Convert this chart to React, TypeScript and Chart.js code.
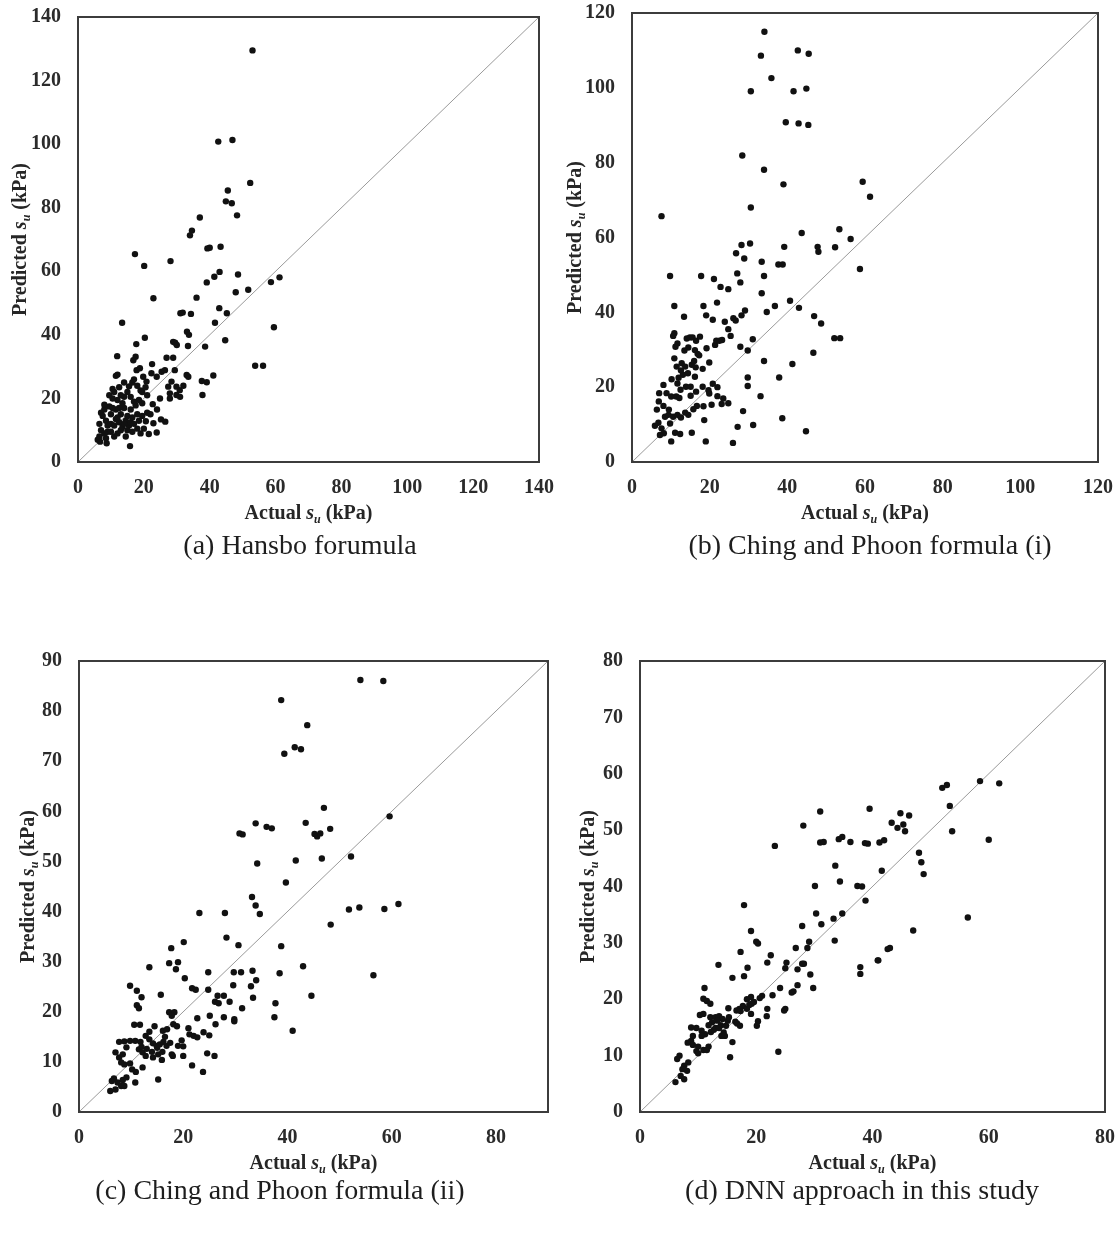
import React, { useEffect, useRef } from 'react';
import { Chart, registerables } from 'chart.js';

Chart.register(...registerables);

type Pt = [number, number];

// (a) Hansbo formula: [actual su, predicted su]
const hansboPoints: Pt[] = [
  [53,129.5],[42.6,100.8],[46.9,101.3],[52.3,87.8],[45.5,85.4],[44.9,82],[46.7,81.4],[48.3,77.6],[37,76.9],[34.6,72.8],[34,71.3],[39.3,67.2],[40,67.4],[43.3,67.7],[17.3,65.4],[20.1,61.7],[28.1,63.2],[39.1,56.5],[41.4,58.3],[43,59.8],[48.6,59],[47.9,53.4],[51.7,54.2],[58.6,56.6],[61.2,58.1],[22.9,51.5],[36,51.7],[31.1,46.8],[31.8,47],[34.3,46.6],[45.2,46.8],[42.9,48.4],[41.6,43.8],[13.4,43.8],[59.5,42.4],[44.7,38.3],[20.3,39.1],[17.7,37.1],[28.9,37.8],[30,36.8],[29.5,37.5],[33.1,41],[33.7,40],[38.6,36.3],[33.4,36.5],[11.9,33.3],[17.5,33.1],[16.8,32],[22.5,30.8],[26.9,32.8],[28.9,32.8],[53.8,30.3],[56.2,30.3],[11.5,27.1],[12,27.5],
  [17.8,28.9],[18.8,29.5],[19.8,26.8],[20.8,25.3],[22.3,27.9],[23.9,26.8],[25.4,28.4],[26.4,28.9],[27.4,23.7],[28.4,25.3],[29.4,28.9],[27.9,21.6],[29.9,23.7],[30.9,22.6],[33,27.4],[33.5,26.8],[29.9,21.1],[27.9,20],[24.9,20],[22.7,18.2],[37.6,25.5],[39.1,25.1],[41.1,27.2],[37.8,21.1],[31,20.5],[32,24],
  [22.9,12.2],[23.9,9.3],[21.5,8.8],[20.6,12.8],[25.2,13.4],[26.5,12.7],[19.5,18.5],[15.8,5],[14.5,8],[16.5,9.5],[18,15],[16,16.5],[17.5,17.8],[18.5,19.5],[19.5,22],[20.5,23.5],[15,22],[15.5,23.8],[14,20.5],[13,21],[12,19.5],[11,22],[10.5,20],[9.5,17.5],[10,15],[8,16.5],[7.5,14.5],[8.5,13],[9,11.5],[7,10],[6.5,8],[6,7],[6.7,6.4],[8.7,5.9],[8.5,7.5],[9,9.5],[10,12],[11,11.5],[11.5,13.5],[12.5,12.5],[13,15],[13.5,11],[14.5,13],[15,14.5],[15.5,11.5],[16,12.5],[12,9],[13,10],[11,8],[10,9.5],[14,17],[13.5,18.5],[12.5,17],[11.5,16.5],[10.5,17],[16.5,14],[17,12],[18,10.5],[9.5,21],[10.5,23],[12.5,23.5],[14,25],[16.5,25],[17,26],[18,24],[19,22.5],[21,21],[16,20.5],[17,19],[8,18],[7,15.5],[6.5,12],[8,9],[12,14],[14,12],[15,10],[19,9],[20,10.5],[18.5,13],[19.5,14.5],[21,15.5],[22,15],[24,16.5]
];

// (b) Ching and Phoon formula (i)
const chingIPoints: Pt[] = [
  [34.1,115],[33.2,108.6],[42.7,110],[45.5,109.1],[35.9,102.6],[30.6,99.1],[41.6,99.1],[44.9,99.8],[39.6,90.8],[42.9,90.5],[45.4,90.1],[28.4,81.9],[34,78.1],[39,74.2],[30.6,68],[7.6,65.7],[43.7,61.2],[28.2,58],[30.4,58.4],[39.2,57.5],[47.8,57.5],[52.3,57.4],[53.4,62.2],[59.4,74.9],[61.3,70.9],[56.3,59.6],[58.7,51.6],[53.6,33.1],[52.1,33.1],
  [26.8,55.8],[28.9,54.4],[33.4,53.5],[37.7,52.8],[38.8,52.8],[48,56.2],[9.8,49.7],[17.8,49.7],[21.1,48.9],[22.8,46.8],[24.8,46.2],[27.1,50.4],[27.9,48],[34,49.7],[33.4,45.1],[40.7,43.1],[43,41.2],[36.8,41.7],[34.7,40.1],[46.9,39],[48.7,37],[46.7,29.2],[41.3,26.2],[34,27],[37.9,22.6],[29.8,22.6],[29.8,20.3],[33.1,17.6],[28.6,13.6],[27.2,9.4],[31.2,9.9],[38.7,11.7],[44.8,8.2],[26,5.1],[19,5.5],
  [10.9,41.7],[13.4,38.8],[18.4,41.7],[19.1,39.2],[21.9,42.6],[20.8,38],[23.9,37.5],[26.1,38.4],[26.7,37.8],[28.2,39.2],[29.1,40.5],[24.8,35.5],[25.4,33.7],[27.9,30.8],[29.8,29.8],[31.1,32.8],[10.9,34.4],[10.6,33.7],[11.7,31.7],[11.2,30.8],[14.1,33],[14.9,33.3],[15.6,33.3],[16.5,32.4],[14.5,30.6],[16.2,29.9],[17.3,28.5],[16.9,28.9],[19.2,30.4],[21.4,31.3],[21.7,32.4],[22.5,32.4],[23.2,32.6],[13.5,29.8],[10.9,27.7],[11.5,25.5],[12.8,26.4],[13.7,25.5],[13.1,23.3],[14.4,23.7],[15.4,26],[16.4,25.3],[16.2,22.8],[18.2,24.9],[19.9,26.6],[10.2,22.1],[11.7,21],[12.5,19.3],[8.1,20.6],[7,18.4],[8.9,18.4],[10.1,17.5],[11.4,17.5],[12.2,17.1],[13.9,20.1],[15.1,20.1],[16.5,18.8],[18.2,20.1],[19.7,19.2],[20.8,20.9],[19.9,18.3],[22,17.6],[23.5,17],[24.8,15.7],[23.1,15.5],[20.5,15.3],[18.4,14.9],[16.7,15],[15.8,14.1],[15.1,17.7],[6.9,16.2],[6.4,14],[8.1,15],[8.5,12.1],[9.4,12.6],[10.6,12.1],[11.7,12.6],[12.6,11.9],[14.5,12.6],[13.7,13.2],[5.9,9.7],[7.6,9],[7.2,7.2],[8.2,7.7],[10.1,5.5],[11.1,7.8],[12.4,7.5],[15.4,7.8],[18.6,11.2],[9.8,10.3],[12,22.5],[12.6,24.5],[16,27],[17.5,33.5],[22,20],[9.5,14],[6.8,10.5]
];

// (c) Ching and Phoon formula (ii)
const chingIIPoints: Pt[] = [
  [38.8,82.2],[39.4,71.5],[41.4,72.8],[42.6,72.4],[43.8,77.2],[54,86.2],[58.4,86],[30.8,55.6],[31.4,55.4],[33.9,57.6],[36,56.9],[37,56.6],[34.2,49.6],[41.6,50.2],[39.7,45.8],[47,60.7],[45.2,55.5],[45.7,55],[46.3,55.6],[46.6,50.6],[48.2,56.5],[43.5,57.7],[52.2,51],[59.6,59],[48.3,37.4],[51.8,40.4],[53.8,40.8],[58.6,40.5],[61.3,41.5],[56.5,27.3],[43,29.1],[44.6,23.2],[41,16.2],
  [33.2,42.9],[33.9,41.2],[34.7,39.5],[23.1,39.7],[28,39.7],[20.1,33.9],[28.3,34.8],[30.6,33.3],[17.7,32.7],[38.8,33.1],[17.3,29.7],[19,29.9],[13.5,28.9],[18.6,28.5],[38.5,27.7],[20.3,26.7],[24.8,27.9],[29.7,27.9],[31.1,27.9],[33.3,28.2],[34,26.3],[29.6,25.3],[33,25.1],[21.7,24.7],[22.4,24.4],[24.8,24.4],[9.8,25.2],[11.1,24.2],[12,22.9],[15.7,23.4],[26.6,23.2],[27.8,23.2],[28.9,22],[26.1,22],[26.8,21.7],[33.4,22.8],[11.1,21.3],[11.5,20.7],[37.7,21.7],[31.3,20.7],[17.3,19.9],[18.3,19.9],[17.8,19.2],[22.7,18.7],[25.1,19.2],[27.8,18.9],[29.8,18.5],[29.8,18.1],[37.5,18.9],[26.2,17.5],[10.6,17.4],[11.7,17.4],[14.5,17.1],[16.1,16.2],[16.9,16.5],[18.1,17.5],[18.8,17.1],[21,16.7],[21.2,15.5],[22,15.2],[22.7,14.9],[23.9,15.9],[25,15.3],[19.7,14.3],[7.7,14],[8.7,14.1],[9.8,14.2],[10.8,14.2],[11.8,14],[12.8,15.2],[13.5,14.5],[14.2,13.7],[14.9,13.2],[15.5,13.5],[16.2,14],[16.8,13.2],[17.5,13.8],[19,13.2],[20,13.1],[7,11.9],[11.5,12.5],[12.2,11.9],[12.8,11.2],[14.2,10.9],[15.2,11.5],[15.9,10.4],[17.8,11.5],[18,11.2],[20,11.2],[24.6,11.7],[26,11.2],[21.7,9.3],[23.8,8],[8.1,9.9],[8.7,9.5],[9.8,9.7],[10.2,8.5],[10.9,8],[12.2,8.9],[15.2,6.5],[6.7,6.7],[6.3,6.2],[7.4,5.9],[8.4,6.4],[9.1,6.9],[10.8,5.9],[6,4.2],[7,4.5],[8.1,5.2],[8.7,5.2],[7.7,10.9],[8.4,11.5],[9.1,12.9],[13,12.6],[14,12],[15,12.8],[16,12],[12,13],[13.5,16],[16.5,15]
];

// (d) DNN approach in this study
const dnnPoints: Pt[] = [
  [52,57.5],[52.8,58],[53.3,54.3],[53.7,49.8],[58.5,58.7],[61.8,58.3],[60,48.3],[47,32.2],[48,46],[48.4,44.3],[48.8,42.2],[46.3,52.6],[44.8,53],[45.6,49.8],[45.3,51],[44.3,50.4],[43.3,51.3],[42,48.2],[41.2,47.8],[39.5,53.8],[39.2,47.6],[38.7,47.7],[36.2,47.9],[34.8,48.8],[34.2,48.4],[33.6,43.7],[34.4,40.9],[30.1,40.1],[37.4,40.1],[38.2,40],[41.6,42.8],[42.6,28.9],[41,26.9],[37.9,25.7],[37.9,24.5],[31,53.3],[28.1,50.8],[23.2,47.2],[31,47.8],[31.6,47.9],[56.4,34.5],
  [17.9,36.7],[38.8,37.5],[30.3,35.2],[34.8,35.2],[33.3,34.3],[31.2,33.3],[27.9,33],[19.1,32.1],[33.5,30.4],[20,30.2],[20.3,29.9],[29.1,30.2],[28.8,29.1],[26.8,29.1],[17.3,28.4],[43,29.1],[13.5,26.1],[22.5,27.8],[25.2,26.5],[21.9,26.5],[28.2,26.3],[27.9,26.3],[40.9,26.9],[18.5,25.6],[17.9,24.1],[15.9,23.8],[25,25.5],[27.1,25.3],[29.3,24.4],[27.1,22.5],[26.4,21.4],[26.1,21.2],[24.1,22],[29.8,22],[11.1,22],[10.9,20.1],[11.5,19.7],[12.1,19.2],[21,20.6],[20.6,20.2],[22.8,20.7],[19.1,20.4],[18.4,20],[19.2,19.2],[17.7,18.8],[17.1,18.3],[18.4,18.3],[18.8,19],[19.6,19.5],[16.6,18],[17.3,17.9],[15.2,18.4],[21.9,18.3],[21.8,17],[19.1,17.4],[25,18.3],[24.8,18],[10.3,17.2],[10.9,17.4],[12.1,16.8],[13,16.8],[13.6,17],[14.2,16.5],[13.3,16.2],[12.4,15.9],[11.8,15.4],[13,14.9],[13.9,15.4],[14.4,14.1],[14.6,13.5],[14,13.5],[15.1,16.2],[15.3,16.8],[16.4,16],[16.7,15.7],[17.2,15.3],[20.3,16.1],[20.1,15.3],[8.8,15],[9.7,14.9],[10.6,14.4],[11.2,13.8],[10.6,13.5],[9.1,13.5],[8.8,12.6],[8.2,12.3],[9.1,11.9],[10,11.6],[10.9,11],[11.8,11.6],[11.5,11],[9.7,10.8],[10,10.4],[15.9,12.4],[23.8,10.7],[15.5,9.7],[6.8,10],[6.4,9.4],[8.3,8.8],[7.6,8.2],[7.3,7.6],[8.1,7.3],[7,6.4],[7.6,5.8],[6.1,5.3],[12.7,14.6],[13.6,14.9],[12.2,14.2],[14.8,15.3]
];

const ticksA = [0, 20, 40, 60, 80, 100, 120, 140];
const ticksB = [0, 20, 40, 60, 80, 100, 120];
const ticksCX = [0, 20, 40, 60, 80];
const ticksCY = [0, 10, 20, 30, 40, 50, 60, 70, 80, 90];
const ticksDX = [0, 20, 40, 60, 80];
const ticksDY = [0, 10, 20, 30, 40, 50, 60, 70, 80];

const captions = [
  '(a) Hansbo forumula',
  '(b) Ching and Phoon formula (i)',
  '(c) Ching and Phoon formula (ii)',
  '(d) DNN approach in this study',
];

const xTitleWord = 'Actual';
const yTitleWord = 'Predicted';

const SERIF = '"Liberation Serif", "Times New Roman", serif';

type PanelSpec = {
  points: Pt[];
  max: number;
  xTicks: number[];
  yTicks: number[];
  left: number;
  top: number;
  width: number;
  height: number;
  yAxisWidth: number;
  xAxisHeight: number;
  padTop: number;
  padRight: number;
  yTitleOffset: number;
  caption: string;
  capX: number;
  capY: number;
};

const panels: PanelSpec[] = [
  { points: hansboPoints, max: 140, xTicks: ticksA, yTicks: ticksA, left: 0, top: 0, width: 560, height: 530, yAxisWidth: 78, xAxisHeight: 68, padTop: 17, padRight: 21, yTitleOffset: 59, caption: captions[0], capX: 300, capY: 545 },
  { points: chingIPoints, max: 120, xTicks: ticksB, yTicks: ticksB, left: 560, top: 0, width: 557, height: 530, yAxisWidth: 72, xAxisHeight: 68, padTop: 13, padRight: 19, yTitleOffset: 58, caption: captions[1], capX: 870, capY: 545 },
  { points: chingIIPoints, max: 90, xTicks: ticksCX, yTicks: ticksCY, left: 0, top: 640, width: 560, height: 540, yAxisWidth: 79, xAxisHeight: 68, padTop: 21, padRight: 12, yTitleOffset: 52, caption: captions[2], capX: 280, capY: 1190 },
  { points: dnnPoints, max: 80, xTicks: ticksDX, yTicks: ticksDY, left: 560, top: 640, width: 557, height: 540, yAxisWidth: 80, xAxisHeight: 68, padTop: 21, padRight: 12, yTitleOffset: 53, caption: captions[3], capX: 862, capY: 1190 },
];

function drawRichTitle(ctx: CanvasRenderingContext2D, word: string, cx: number, cy: number, size: number, vertical: boolean) {
  const bold = `bold ${size}px ${SERIF}`;
  const boldItalic = `italic bold ${size}px ${SERIF}`;
  const sub = `italic bold ${Math.round(size * 0.62)}px ${SERIF}`;
  const parts = [
    { t: word + ' ', f: bold, dy: 0 },
    { t: 's', f: boldItalic, dy: 0 },
    { t: 'u', f: sub, dy: size * 0.2 },
    { t: ' (kPa)', f: bold, dy: 0 },
  ];
  let total = 0;
  const widths = parts.map((p) => {
    ctx.font = p.f;
    const w = ctx.measureText(p.t).width;
    total += w;
    return w;
  });
  ctx.save();
  ctx.translate(cx, cy);
  if (vertical) ctx.rotate(-Math.PI / 2);
  ctx.fillStyle = '#262626';
  ctx.textBaseline = 'alphabetic';
  ctx.textAlign = 'left';
  let x = -total / 2;
  const base = size * 0.33;
  parts.forEach((p, i) => {
    ctx.font = p.f;
    ctx.fillText(p.t, x, base + p.dy);
    x += widths[i];
  });
  ctx.restore();
}

function Panel({ spec }: { spec: PanelSpec }) {
  const ref = useRef<HTMLCanvasElement>(null);
  useEffect(() => {
    if (!ref.current) return;
    const framePlugin = {
      id: 'frameAndTitles',
      afterDraw(chart: any) {
        const { ctx, chartArea } = chart;
        const { left, top, right, bottom } = chartArea;
        ctx.save();
        ctx.strokeStyle = '#3c3c3c';
        ctx.lineWidth = 2;
        ctx.strokeRect(left, top, right - left, bottom - top);
        ctx.restore();
        drawRichTitle(ctx, xTitleWord, (left + right) / 2, bottom + 50, 20, false);
        drawRichTitle(ctx, yTitleWord, left - spec.yTitleOffset, (top + bottom) / 2, 20, true);
      },
    };
    const tickFont = { family: SERIF, size: 20, weight: 'bold' as const };
    const chart = new Chart(ref.current, {
      type: 'scatter',
      data: {
        datasets: [
          {
            type: 'line',
            data: [{ x: 0, y: 0 }, { x: spec.max, y: spec.max }],
            borderColor: '#9a9a9a',
            borderWidth: 1,
            pointRadius: 0,
            fill: false,
            order: 2,
          } as any,
          {
            type: 'scatter',
            data: spec.points.map(([x, y]) => ({ x, y })),
            pointRadius: 3.2,
            pointBackgroundColor: '#111111',
            pointBorderWidth: 0,
            borderWidth: 0,
            order: 1,
          } as any,
        ],
      },
      options: {
        animation: false,
        responsive: false,
        maintainAspectRatio: false,
        devicePixelRatio: 1,
        layout: { padding: { top: spec.padTop, right: spec.padRight, left: 0, bottom: 0 } },
        plugins: { legend: { display: false }, tooltip: { enabled: false } },
        scales: {
          x: {
            type: 'linear',
            min: 0,
            max: spec.max,
            afterBuildTicks: (s: any) => {
              s.ticks = spec.xTicks.map((v) => ({ value: v }));
            },
            afterFit: (s: any) => {
              s.height = spec.xAxisHeight;
              s.paddingLeft = 0;
              s.paddingRight = 0;
            },
            ticks: { font: tickFont, color: '#2b2b2b', padding: 14, maxRotation: 0, autoSkip: false },
            grid: { display: false, drawTicks: false },
            border: { display: false },
          },
          y: {
            type: 'linear',
            min: 0,
            max: spec.max,
            afterBuildTicks: (s: any) => {
              s.ticks = spec.yTicks.map((v) => ({ value: v }));
            },
            afterFit: (s: any) => {
              s.width = spec.yAxisWidth;
              s.paddingTop = 0;
              s.paddingBottom = 0;
            },
            ticks: { font: tickFont, color: '#2b2b2b', padding: 17, autoSkip: false },
            grid: { display: false, drawTicks: false },
            border: { display: false },
          },
        },
      } as any,
      plugins: [framePlugin],
    });
    return () => chart.destroy();
  }, [spec]);
  return (
    <canvas
      ref={ref}
      width={spec.width}
      height={spec.height}
      style={{ position: 'absolute', left: spec.left, top: spec.top, width: spec.width, height: spec.height }}
    />
  );
}

export default function App() {
  return (
    <div style={{ position: 'absolute', left: 0, top: 0, width: 1117, height: 1234, background: '#ffffff', overflow: 'hidden' }}>
      {panels.map((p, i) => (
        <Panel key={i} spec={p} />
      ))}
      {panels.map((p, i) => (
        <div
          key={'c' + i}
          style={{
            position: 'absolute',
            left: p.capX - 300,
            top: p.capY - 18,
            width: 600,
            lineHeight: '36px',
            textAlign: 'center',
            fontFamily: SERIF,
            fontSize: 28,
            color: '#1e1e1e',
          }}
        >
          {p.caption}
        </div>
      ))}
    </div>
  );
}
